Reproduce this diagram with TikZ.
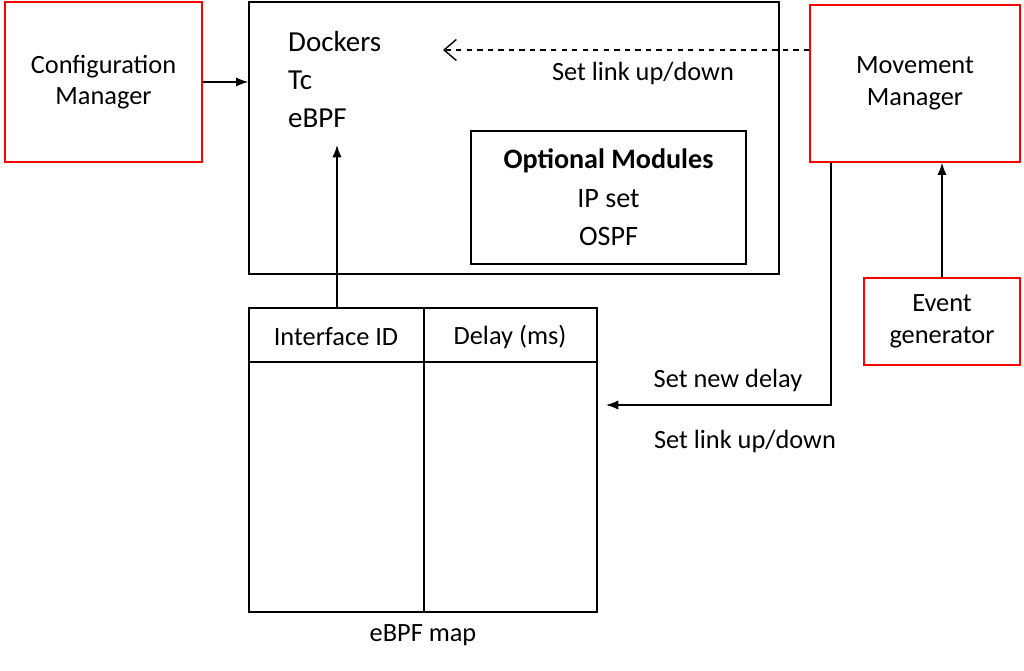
\documentclass[tikz,border=0pt]{standalone}
\usepackage{fontspec}
\setmainfont{Carlito}
\usetikzlibrary{arrows.meta}
\begin{document}
\begin{tikzpicture}[x=0.02cm, y=-0.02cm,
    every node/.style={font=\fontsize{15}{18}\selectfont},
    redbox/.style={draw=red, thick, align=center},
    blkbox/.style={draw, thick},
    conn/.style={thick, -{Latex[length=7pt]}}]
    \useasboundingbox (0,0) rectangle (1024,671);
    % managers
    \node (config) [redbox, minimum width=197*0.02cm, minimum height=160*0.02cm] at (103.5,82) {Configuration\\Manager};
    \node (movement) [redbox, minimum width=210*0.02cm, minimum height=157*0.02cm] at (915,83.5) {Movement\\Manager};
    \node (event) [redbox, minimum width=156*0.02cm, minimum height=87*0.02cm] at (942,321.5) {Event\\generator};
    % host box
    \node (host) [blkbox, minimum width=530*0.02cm, minimum height=272*0.02cm] at (514,138) {};
    \node (dockers) [anchor=west, font=\fontsize{16.5}{18}\selectfont] at (282,42) {Dockers};
    \node (tc) [anchor=west, font=\fontsize{16.5}{18}\selectfont] at (282,80) {Tc};
    \node (ebpf) [anchor=west, font=\fontsize{16.5}{18}\selectfont] at (282,118) {eBPF};
    \node (optional) [blkbox, align=center, minimum width=275*0.02cm, minimum height=133*0.02cm, font=\fontsize{16}{22}\selectfont] at (608.5,197.5) {\textbf{Optional Modules}\\IP set\\OSPF};
    % ebpf map table
    \node (map) [blkbox, minimum width=348*0.02cm, minimum height=304*0.02cm] at (423,460) {};
    \draw[thick] (249,362) -- (597,362);
    \draw[thick] (424,308) -- (424,612);
    \node (ifid) at (336,337) {Interface ID};
    \node (delay) at (510,337) {Delay (ms)};
    \node (maplabel) at (423,635) {eBPF map};
    % connectors
    \draw[conn] (config.east) -- (host.west |- config.east);
    \draw[thick, dashed, -{Straight Barb[length=7pt, width=12pt]}] (movement.west |- 0,50) -- (443,50);
    \node (linkup) at (643,73) {Set link up/down};
    \draw[conn] (map.north -| 337,0) -- (337,145);
    \draw[conn] (event.north) -- (movement.south -| event.north);
    \draw[conn] (movement.south -| 831,0) -- (831,405) -- (606,405);
    \node (newdelay) at (728,380) {Set new delay};
    \node (linkup2) at (745,441) {Set link up/down};
\end{tikzpicture}
\end{document}
